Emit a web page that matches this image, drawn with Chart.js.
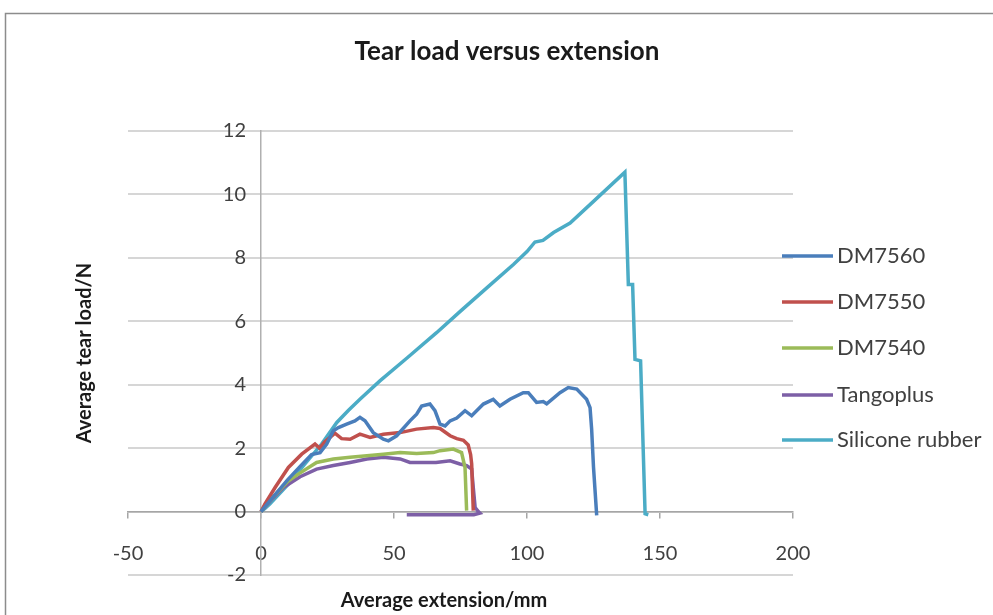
<!DOCTYPE html>
<html>
<head>
<meta charset="utf-8">
<script src="https://cdn.jsdelivr.net/npm/chart.js@4.4.0/dist/chart.umd.min.js"></script>
<style>
  body { margin: 0; background: #fff; }
</style>
</head>
<body>
<canvas id="myChart" width="993" height="615"></canvas>
<script>
const labels = ["DM7560", "DM7550", "DM7540", "Tangoplus", "Silicone rubber"];
const colors = ["#4a7ebb", "#c0504d", "#9bbb59", "#7d5fa6", "#4bacc6"];

const dm7560X = [0, 5, 10, 15, 19, 22.2, 24.7, 27.2, 29.1, 32.2, 35.3, 37.2, 39.1, 42.2, 46, 47.9, 51, 56, 58.5, 60.4, 63.5, 65.4, 67.3, 69.2, 71.1, 73.6, 76.7, 79.2, 83.6, 87.3, 89.8, 93.6, 98.6, 100.5, 103.6, 106.1, 107.4, 112.4, 115.5, 118.7, 122.4, 123.7, 124.3, 125, 126.2];
const dm7560Y = [0, 0.5, 1.0, 1.45, 1.8, 1.86, 2.13, 2.55, 2.65, 2.76, 2.86, 2.97, 2.86, 2.49, 2.28, 2.23, 2.39, 2.86, 3.07, 3.33, 3.39, 3.18, 2.76, 2.7, 2.86, 2.95, 3.18, 3.02, 3.39, 3.54, 3.33, 3.54, 3.75, 3.75, 3.44, 3.47, 3.4, 3.75, 3.91, 3.86, 3.54, 3.28, 2.6, 1.4, -0.12];

const dm7550X = [0, 1.5, 5.3, 10.3, 15.3, 20.3, 22, 24, 27.8, 30.3, 33.5, 37.2, 41, 46, 52.3, 58.5, 64.8, 67.3, 71.1, 73.6, 76.1, 77.9, 78.8, 79.2, 79.8];
const dm7550Y = [0, 0.24, 0.76, 1.39, 1.81, 2.13, 2.0, 2.2, 2.47, 2.3, 2.28, 2.44, 2.34, 2.44, 2.49, 2.6, 2.65, 2.62, 2.39, 2.3, 2.25, 2.1, 1.8, 1.5, 0.03];

const dm7540X = [0, 5, 10, 14, 20.9, 27.2, 33.5, 39.8, 46, 52.3, 58.5, 64.8, 67.3, 72.3, 75.4, 76.7, 77.3];
const dm7540Y = [0, 0.5, 0.95, 1.18, 1.55, 1.66, 1.71, 1.76, 1.81, 1.86, 1.83, 1.86, 1.92, 1.97, 1.86, 1.39, 0.03];

const tangoX = [0, 4, 8.4, 14.7, 20.9, 27.2, 33.5, 39.8, 46, 52.3, 56, 61, 65.8, 71.1, 74.8, 77.3, 79.2, 79.8, 80.5, 81.7, 82.3, 80, 54.8];
const tangoY = [0, 0.38, 0.76, 1.1, 1.34, 1.45, 1.55, 1.66, 1.71, 1.66, 1.55, 1.55, 1.55, 1.6, 1.5, 1.45, 1.34, 0.76, 0.13, 0, -0.05, -0.1, -0.1];

const siliconeX = [0, 1.5, 3.4, 10.3, 16.5, 22.8, 28.5, 33, 37.2, 44.7, 55, 66, 75, 85, 95, 100, 103, 106, 110, 116.2, 125, 136.8, 138.1, 139.7, 140.6, 142.7, 144.4, 145.6];
const siliconeY = [0, 0.1, 0.25, 0.87, 1.5, 2.13, 2.81, 3.2, 3.54, 4.12, 4.85, 5.64, 6.32, 7.06, 7.8, 8.2, 8.5, 8.55, 8.8, 9.1, 9.78, 10.7, 7.16, 7.16, 4.8, 4.75, -0.07, -0.1];

const xTicks = [-50, 0, 50, 100, 150, 200];
const yTicks = [-2, 0, 2, 4, 6, 8, 10, 12];

function toPoints(xs, ys) {
  return xs.map((x, i) => ({ x: x, y: ys[i] }));
}

const series = [
  toPoints(dm7560X, dm7560Y),
  toPoints(dm7550X, dm7550Y),
  toPoints(dm7540X, dm7540Y),
  toPoints(tangoX, tangoY),
  toPoints(siliconeX, siliconeY)
];

const datasets = series.map((pts, i) => ({
  label: labels[i],
  data: pts,
  borderColor: colors[i],
  backgroundColor: colors[i],
  borderWidth: 3.5,
  pointRadius: 0,
  showLine: true,
  tension: 0
}));

const FONT = "Lato";

// frame, title, legend and axis titles
const extras = {
  id: "extras",
  beforeDraw(chart) {
    const ctx = chart.ctx;
    ctx.save();
    ctx.fillStyle = "#fff";
    ctx.fillRect(0, 0, chart.width, chart.height);
    ctx.strokeStyle = "#8c8c8c";
    ctx.lineWidth = 1.5;
    ctx.strokeRect(5.5, 13.5, chart.width + 20, chart.height + 20);
    ctx.restore();
  },
  afterDraw(chart) {
    const ctx = chart.ctx;
    ctx.save();
    ctx.fillStyle = "#1a1a1a";
    ctx.textAlign = "center";
    ctx.textBaseline = "middle";
    ctx.font = "bold 26px " + FONT;
    ctx.fillText("Tear load versus extension", 507, 52);
    ctx.font = "bold 20px " + FONT;
    ctx.fillText("Average extension/mm", 444, 601);
    ctx.translate(85, 353);
    ctx.rotate(-Math.PI / 2);
    ctx.fillText("Average tear load/N", 0, 0);
    ctx.restore();

    ctx.save();
    ctx.font = "22px " + FONT;
    ctx.textBaseline = "middle";
    ctx.textAlign = "left";
    const ys = [256, 302, 348, 395, 440];
    chart.data.datasets.forEach((ds, i) => {
      ctx.strokeStyle = ds.borderColor;
      ctx.lineWidth = 3.5;
      ctx.beginPath();
      ctx.moveTo(782, ys[i]);
      ctx.lineTo(833, ys[i]);
      ctx.stroke();
      ctx.fillStyle = "#404040";
      ctx.fillText(ds.label, 837, ys[i]);
    });
    ctx.restore();
  }
};

const myChart = new Chart(document.getElementById("myChart"), {
  type: "scatter",
  data: { datasets: datasets },
  options: {
    responsive: false,
    devicePixelRatio: 1,
    animation: false,
    layout: { padding: { left: 128, right: 200, top: 131, bottom: 40 } },
    plugins: {
      legend: { display: false },
      tooltip: { enabled: false },
      title: { display: false }
    },
    scales: {
      x: {
        type: "linear",
        position: { y: 0 },
        min: -50,
        max: 200,
        afterBuildTicks: (s) => { s.ticks = xTicks.map(v => ({ value: v })); },
        grid: { drawOnChartArea: false, drawTicks: true, tickLength: 6, color: "#a6a6a6", lineWidth: 1.5 },
        border: { display: true, color: "#a6a6a6", width: 1.5 },
        ticks: { autoSkip: false, maxRotation: 0, padding: 24, color: "#404040", font: { family: FONT, size: 20 } }
      },
      y: {
        type: "linear",
        position: { x: 0 },
        min: -2,
        max: 12,
        afterBuildTicks: (s) => { s.ticks = yTicks.map(v => ({ value: v })); },
        grid: { drawTicks: false, color: "#d6d6d6", lineWidth: 2 },
        border: { display: true, color: "#b0b0b0", width: 1.5 },
        // labels sit right-aligned on the axis line, so push them left with an em space
        ticks: { autoSkip: false, color: "#404040", font: { family: FONT, size: 20 },
                 callback: (v) => v + "\u2003" }
      }
    }
  },
  plugins: [extras]
});
</script>
</body>
</html>
